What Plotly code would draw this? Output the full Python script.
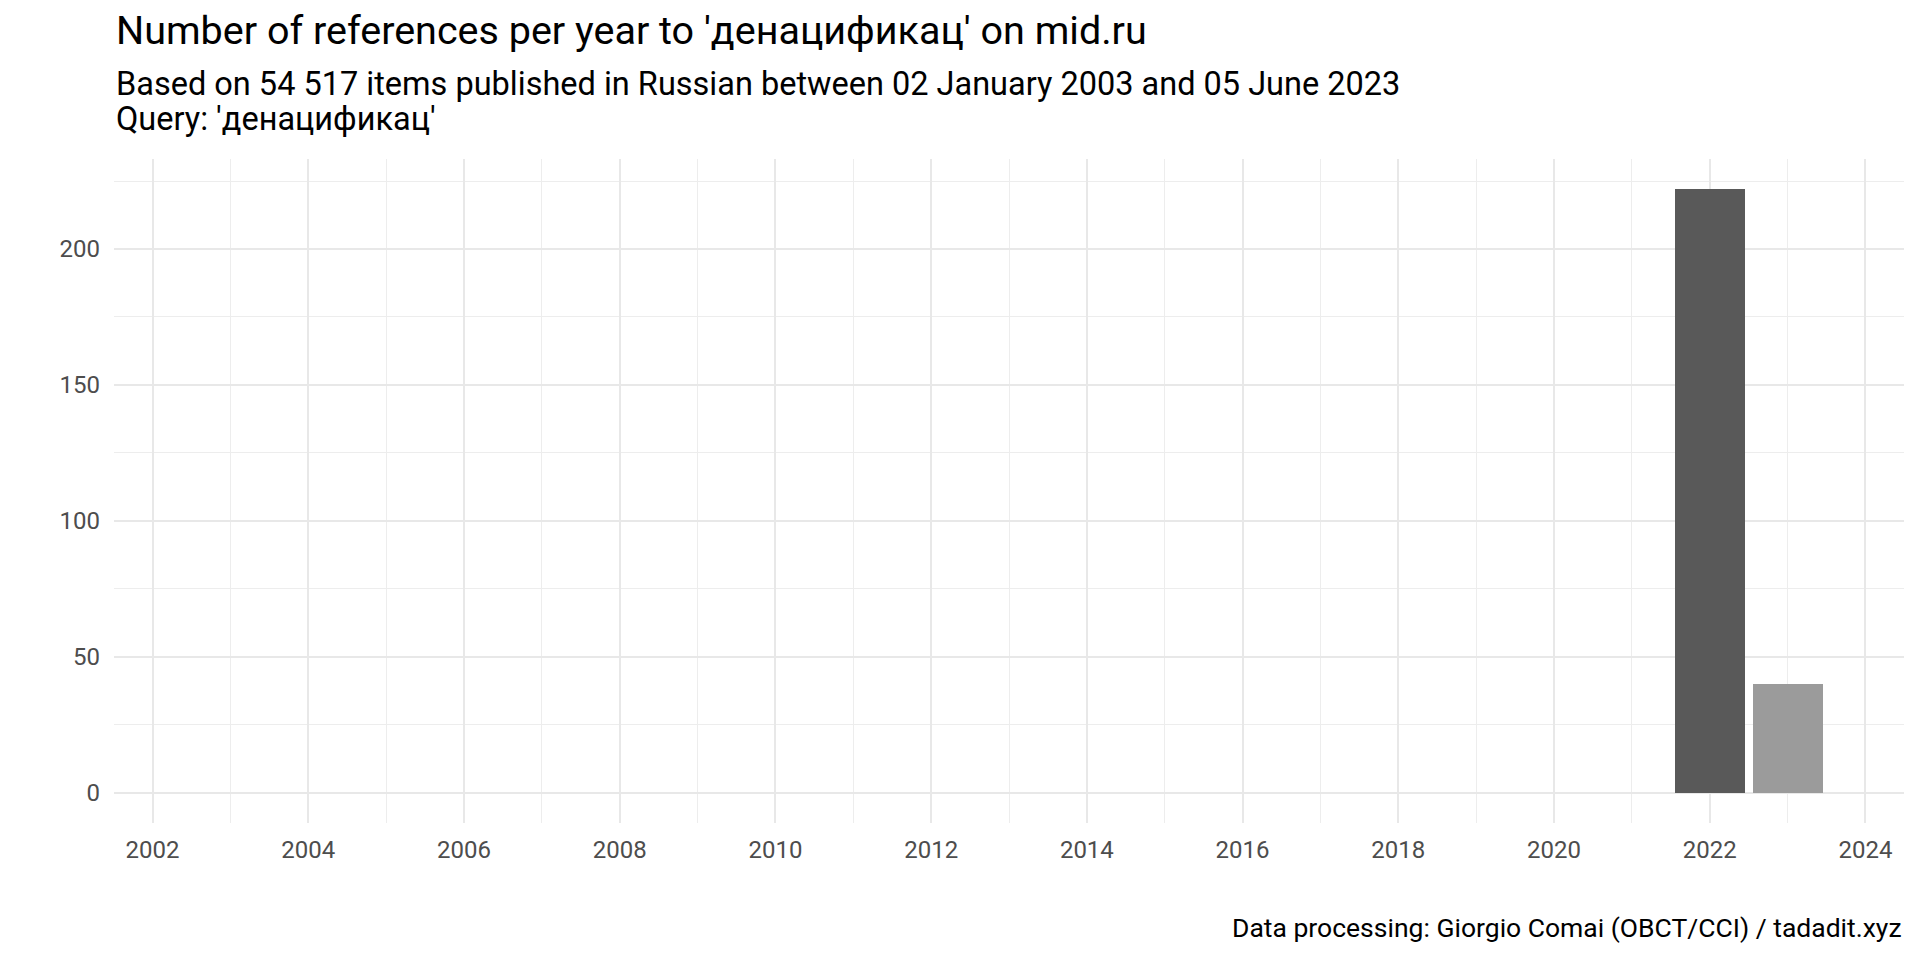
import plotly.graph_objects as go

# Dados: número de referências por ano
anos = list(range(2003, 2024))
referencias = [0] * 19 + [222, 40]
cores = ["#595959"] * 20 + ["#9b9b9b"]

titulo = "Number of references per year to 'денацификац' on mid.ru"
subtitulo_1 = "Based on 54 517 items published in Russian between 02 January 2003 and 05 June 2023"
subtitulo_2 = "Query: 'денацификац'"
legenda = "Data processing: Giorgio Comai (OBCT/CCI) / tadadit.xyz"

FONTE = "Roboto"

fig = go.Figure(
    go.Bar(x=anos, y=referencias, marker=dict(color=cores, line=dict(width=0)), width=0.9)
)

# a página tem margem de 8px no body, por isso a figura é um pouco menor
fig.update_layout(
    width=1912,
    height=952,
    margin=dict(l=106, r=16, t=151, b=137),
    plot_bgcolor="white",
    paper_bgcolor="white",
    font=dict(family=FONTE, color="#4d4d4d", size=24),
    showlegend=False,
    bargap=0,
)

# Eixo X: anos pares com grade principal, anos ímpares com grade secundária
fig.update_xaxes(
    range=[2001.505, 2024.495],
    tick0=2002,
    dtick=2,
    showgrid=True,
    gridcolor="#e8e8e8",
    gridwidth=2,
    zeroline=False,
    showline=False,
    ticks="",
    ticklabelstandoff=10,
    minor=dict(dtick=1, tick0=2003, showgrid=True, gridcolor="#ededed", gridwidth=1),
)

fig.update_yaxes(
    range=[-11.1, 233.1],
    tick0=0,
    dtick=50,
    showgrid=True,
    gridcolor="#e8e8e8",
    gridwidth=2,
    zeroline=False,
    showline=False,
    ticks="",
    ticklabelstandoff=13,
    minor=dict(dtick=25, tick0=0, showgrid=True, gridcolor="#ededed", gridwidth=1),
)

# Títulos e legenda como anotações
fig.add_annotation(text=titulo, xref="paper", yref="paper", x=0, y=1.1928,
                   xanchor="left", yanchor="middle", showarrow=False,
                   font=dict(family=FONTE, size=39.5, color="black"))
fig.add_annotation(text=subtitulo_1, xref="paper", yref="paper", x=0, y=1.1125,
                   xanchor="left", yanchor="middle", showarrow=False,
                   font=dict(family=FONTE, size=32.5, color="black"))
fig.add_annotation(text=subtitulo_2, xref="paper", yref="paper", x=0, y=1.0600,
                   xanchor="left", yanchor="middle", showarrow=False,
                   font=dict(family=FONTE, size=32.5, color="black"))
fig.add_annotation(text=legenda, xref="paper", yref="paper", x=1, y=-0.158,
                   xanchor="right", yanchor="middle", showarrow=False,
                   font=dict(family=FONTE, size=26.5, color="black"))

fig.write_html("out.html")
